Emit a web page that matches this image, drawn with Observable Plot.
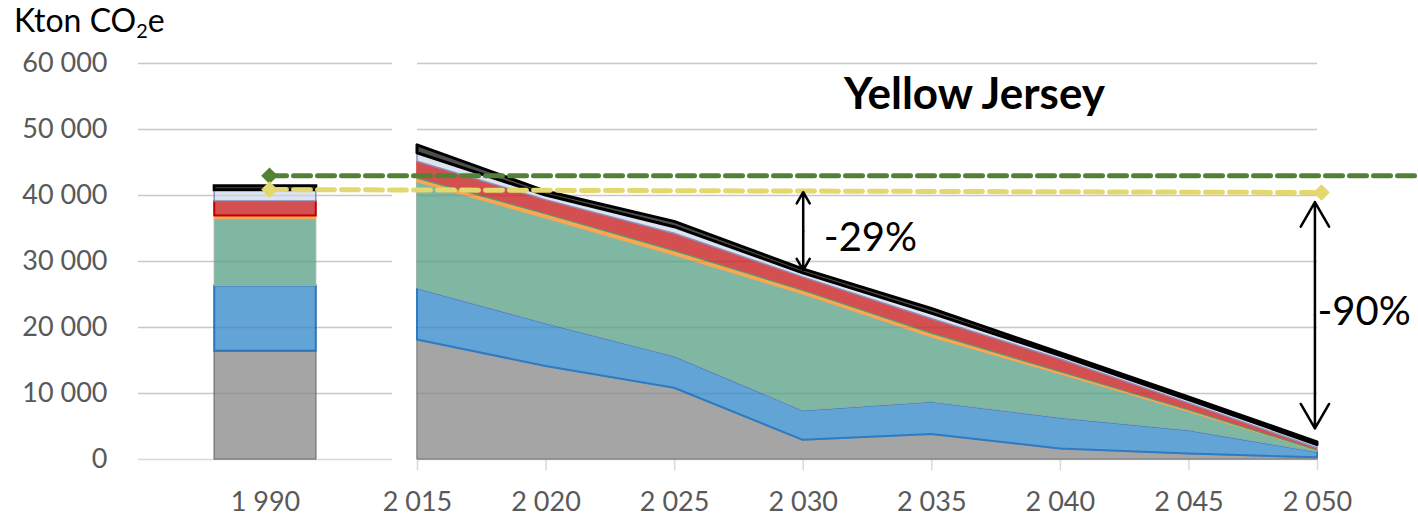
<!DOCTYPE html>
<html>
<head>
<meta charset="utf-8">
<script src="https://cdn.jsdelivr.net/npm/d3@7"></script>
<script src="https://cdn.jsdelivr.net/npm/@observablehq/plot@0.6"></script>
<style>
  body { margin: 0; background: #fff; }
  #wrap { width: 1418px; height: 517px; font-family: Lato, "Open Sans", sans-serif; background: #fff; }
  #ytitle { height: 45px; padding-left: 14px; font-size: 32px; line-height: 40px; color: #000; white-space: nowrap; }
  #ytitle sub { font-size: 0.62em; line-height: 0; vertical-align: -0.28em; }
  #chart svg { display: block; overflow: visible; }
</style>
</head>
<body>
<div id="wrap">
  <div id="ytitle">Kton CO<sub>2</sub>e</div>
  <div id="chart"></div>
</div>
<script>
// ---------- data ----------
const years = [2015, 2020, 2025, 2030, 2035, 2040, 2045, 2050];
const baseYear = 1990;
const seriesNames = ["Grå", "Blå", "Grønn", "Oransje", "Rød", "Lys", "Svart"];

// scenario area series (values per year, stacked bottom -> top)
const grayVals   = [18100, 14100, 10800, 2900, 3800, 1600, 850, 250];
const blueVals   = [7800, 6500, 4800, 4500, 4900, 4700, 3550, 850];
const greenVals  = [16100, 15900, 15300, 17600, 9800, 6600, 2800, 200];
const orangeVals = [600, 700, 700, 600, 600, 400, 300, 100];
const redVals    = [2500, 2100, 2600, 2000, 2200, 1900, 1000, 300];
const lightVals  = [1300, 700, 1000, 600, 800, 500, 500, 500];
const blackVals  = [1200, 600, 800, 600, 700, 400, 400, 400];

// 1990 bar (same series order)
const base1990 = [16400, 9900, 10100, 500, 2200, 1700, 600];

// reference lines
const greenRefValue = 43000;
const yellowRefValues = [40900, 40450]; // 1990, 2050

// annotations
const arrow29 = [40500, 28700];
const arrow90 = [39000, 4700];
const label29 = "-29%";
const label90 = "-90%";
const chartTitle = "Yellow Jersey";

const yTicks = [0, 10000, 20000, 30000, 40000, 50000, 60000];
const xTickYears = [1990, 2015, 2020, 2025, 2030, 2035, 2040, 2045, 2050];

// ---------- styles ----------
const fills   = ["#a5a5a5", "#62a4d6", "#7fb7a3", "#fba650", "#d44f4f", "#dce4ef", "#4d4d4d"];
const strokes = ["#858585", "#2e7bc4", "#93aca3", "#fba650", "#d44f4f", "#8f8fbf", "#000000"];
const strokeW = [1.5, 2, 1, 1, 1, 1.5, 3];
const barStrokes = ["#7f7f7f", "#2e75b6", "#9ab3ab", "#fba650", "#c00000", "#8f8fbf", "#000000"];
const barStrokeW = [1.5, 2, 1, 1, 2, 1.5, 3];

// ---------- build stacks ----------
const seriesVals = [grayVals, blueVals, greenVals, orangeVals, redVals, lightVals, blackVals];
const layers = [];
const running = years.map(() => 0);
seriesVals.forEach((vals, s) => {
  layers.push(years.map((yr, i) => {
    const r = {year: yr, series: seriesNames[s], y0: running[i], y1: running[i] + vals[i]};
    running[i] += vals[i];
    return r;
  }));
});
let acc = 0;
const barRows = base1990.map((v, s) => {
  const r = {year: baseYear, series: seriesNames[s], y0: acc, y1: acc + v};
  acc += v;
  return r;
});

const loc = d3.formatLocale({decimal: ",", thousands: " ", grouping: [3], currency: ["", ""]});
const fmt = loc.format(",");

const marks = [];
// gridlines (two sub-charts)
marks.push(Plot.ruleY(yTicks, {x1: 1980, x2: 2000, stroke: "#d9d9d9", strokeWidth: 1.5}));
marks.push(Plot.ruleY(yTicks, {x1: 2015, x2: 2050, stroke: "#d9d9d9", strokeWidth: 1.5}));
// tick marks of right category axis
marks.push(Plot.ruleX(years, {x: d => d, y1: 0, y2: -1700, stroke: "#d9d9d9", strokeWidth: 1.5}));

// 1990 bar
barRows.forEach((r, s) => {
  marks.push(Plot.rect([r], {
    x1: d => d.year - 4, x2: d => d.year + 4, y1: "y0", y2: "y1",
    fill: fills[s], stroke: barStrokes[s], strokeWidth: barStrokeW[s]
  }));
});

// stacked areas
layers.forEach((rows, s) => {
  marks.push(Plot.areaY(rows, {
    x: "year", y1: "y0", y2: "y1",
    fill: fills[s], stroke: strokes[s], strokeWidth: strokeW[s], strokeLinejoin: "round"
  }));
});
// thin green boundary on top of orange band
marks.push(Plot.line(layers[3], {x: "year", y: "y1", stroke: "#4f9f76", strokeWidth: 1.2}));

// gridlines showing through fills
marks.push(Plot.ruleY(yTicks.filter(d => d > 0), {x1: 1980, x2: 2000, stroke: "#000", strokeOpacity: 0.08, strokeWidth: 1.5}));
marks.push(Plot.ruleY(yTicks.filter(d => d > 0), {x1: 2015, x2: 2050, stroke: "#000", strokeOpacity: 0.08, strokeWidth: 1.5}));

// reference dashed lines
const greenLine = [{x: baseYear, y: greenRefValue}, {x: 2062, y: greenRefValue}];
const yellowLine = [{x: baseYear, y: yellowRefValues[0]}, {x: 2050, y: yellowRefValues[1]}];
marks.push(Plot.line(greenLine, {x: "x", y: "y", stroke: "#538135", strokeWidth: 5, strokeDasharray: "17,7", dx: 4}));
marks.push(Plot.line(yellowLine, {x: "x", y: "y", stroke: "#e3d86f", strokeWidth: 5, strokeDasharray: "17,7", dx: 4}));
marks.push(Plot.dot([greenLine[0]], {x: "x", y: "y", symbol: "diamond2", r: 7.5, fill: "#538135", stroke: "none", dx: 4}));
marks.push(Plot.dot(yellowLine, {x: "x", y: "y", symbol: "diamond2", r: 7.5, fill: "#e3d86f", stroke: "none", dx: 4}));

// double-headed arrows
const arrowDefs = [{x: 2030, top: arrow29[0], bottom: arrow29[1]}, {x: 2049.9, top: arrow90[0], bottom: arrow90[1]}];
const arrowSegs = arrowDefs.flatMap(a => {
  const mid = (a.top + a.bottom) / 2;
  return [{x: a.x, y1: mid, y2: a.top}, {x: a.x, y1: mid, y2: a.bottom}];
});
marks.push(Plot.arrow(arrowSegs, {x1: "x", x2: "x", y1: "y1", y2: "y2", stroke: "#000", strokeWidth: 2.5, headLength: 17, headAngle: 60}));

// annotation texts
marks.push(Plot.text([label29], {x: 2030.8, y: 33600, text: d => d, textAnchor: "start", lineAnchor: "middle", fontSize: 40, fill: "#000"}));
marks.push(Plot.text([label90], {x: 2050, y: 22300, text: d => d, textAnchor: "start", lineAnchor: "middle", fontSize: 40, fill: "#000", dx: 0}));
marks.push(Plot.text([chartTitle], {x: 2036.66, y: 55250, text: d => d, textAnchor: "middle", lineAnchor: "middle", fontSize: 44, fontWeight: "bold", fill: "#000"}));

const chart = Plot.plot({
  width: 1418,
  height: 472,
  marginTop: 18,
  marginBottom: 58,
  marginLeft: 138,
  marginRight: 101,
  style: {fontFamily: "Lato, 'Open Sans', sans-serif", fontSize: "27px", color: "#595959", background: "#fff", overflow: "visible"},
  x: {
    type: "linear",
    domain: [1980, 1990, 2000, 2015, 2050],
    range: [138, 265, 392, 417, 1317],
    ticks: xTickYears,
    tickFormat: fmt,
    tickSize: 0,
    tickPadding: 32,
    label: null
  },
  y: {
    domain: [0, 60000],
    ticks: yTicks,
    tickFormat: fmt,
    tickSize: 0,
    tickPadding: 31,
    label: null
  },
  marks
});
document.getElementById("chart").appendChild(chart);
</script>
</body>
</html>
